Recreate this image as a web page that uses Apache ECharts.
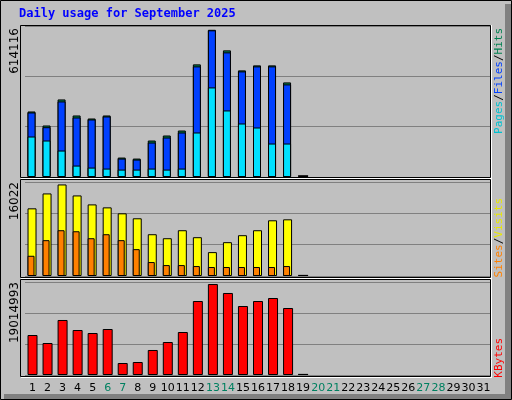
<!DOCTYPE html>
<html><head><meta charset="utf-8">
<script src="https://cdn.jsdelivr.net/npm/echarts@6/dist/echarts.min.js"></script>
<style>html,body{margin:0;padding:0;background:#c0c0c0}#c{width:512px;height:400px}</style>
</head><body><div id="c"></div>
<script>
const days = Array.from({length:31},(_,i)=>String(i+1));
const weekendDays = ['6','7','13','14','20','21','27','28'];
const hits  = [273400,214900,323600,256700,244100,256700,81100,76900,152200,173100,194000,469900,614116,528400,444800,465700,465700,394600];
const files = [269200,207800,315200,248300,240000,252500,76900,72700,143800,164700,185600,461500,612000,520000,440600,461500,461500,386300];
const pages = [168900,152200,110400,47700,39300,35100,30900,30900,35100,30900,35100,185600,373700,277600,223200,206500,139600,139600];
const visits= [11840,14450,16022,14100,12530,12010,10970,10100,7310,6610,8010,6790,4180,5920,7140,8010,9750,9920];
const sites = [3540,6270,8010,7830,6610,7310,6270,4700,2440,1910,1910,1740,1570,1570,1570,1570,1570,1740];
const kbytes= [8361000,6689000,11497000,9406000,8779000,9615000,2508000,2717000,5226000,6898000,8988000,15468000,19014993,17141000,14423000,15468000,16095000,14005000];
const maxLabels = ['614116','16022','19014993'];
const markerDay = 19;

const panels=[{top:26,h:151,max:630000},{top:182,h:94,max:16450},{top:282,h:93,max:19440000}];
const grids=panels.map(p=>({left:25,width:466,top:p.top,height:p.h}));
const xAxes=panels.map((p,i)=>({type:'category',gridIndex:i,data:days,axisLine:{show:false},axisTick:{show:false},
  axisLabel:{show:i===2,interval:0,margin:8,fontFamily:'DejaVu Sans',fontSize:11,color:v=>weekendDays.includes(v)?'#008060':'#000'}}));
const yAxes=panels.map((p,i)=>({type:'value',gridIndex:i,min:0,max:p.max,interval:p.max/3,axisLabel:{show:false},axisLine:{show:false},axisTick:{show:false},
  splitLine:{show:true,lineStyle:{color:'#808080',width:1}}}));
const st=c=>({color:c,borderColor:'#000',borderWidth:1});
const marker=i=>days.map((d,k)=>k+1===markerDay?panels[i].max*0.012:null);
const series=[
 {type:'bar',xAxisIndex:0,yAxisIndex:0,data:hits,barWidth:8,barGap:'-80%',itemStyle:st('#008050'),animation:false},
 {type:'bar',xAxisIndex:0,yAxisIndex:0,data:files,barWidth:8,barGap:'-80%',itemStyle:st('#0040ff'),animation:false},
 {type:'bar',xAxisIndex:0,yAxisIndex:0,data:pages,barWidth:8,barGap:'-62%',itemStyle:st('#00e0ff'),animation:false},
 {type:'bar',xAxisIndex:1,yAxisIndex:1,data:visits,barWidth:9,barGap:'-55%',itemStyle:st('#ffff00'),animation:false},
 {type:'bar',xAxisIndex:1,yAxisIndex:1,data:sites,barWidth:7,barGap:'-55%',itemStyle:st('#ff8000'),animation:false},
 {type:'bar',xAxisIndex:2,yAxisIndex:2,data:kbytes,barWidth:10,itemStyle:st('#ff0000'),animation:false}
];
[0,1,2].forEach(i=>series.push({type:'bar',xAxisIndex:i,yAxisIndex:i,data:marker(i),barWidth:10,barGap:'-100%',itemStyle:{color:'#000'},animation:false,z:1}));

const g=[];
g.push({type:'rect',shape:{x:0.5,y:0.5,width:511,height:399},style:{fill:null,stroke:'#000',lineWidth:1},z:0});
g.push({type:'rect',shape:{x:505,y:4,width:6,height:395},style:{fill:'#808080'},z:0});
g.push({type:'rect',shape:{x:4,y:394,width:507,height:5},style:{fill:'#808080'},z:0});
g.push({type:'text',left:19,top:8,style:{text:'Daily usage for September 2025',fill:'#0000ff',font:'bold 12px "DejaVu Sans Mono"'}});
const frames=[[25,177],[179,277],[279,376]];
frames.forEach(([a,b])=>{
  g.push({type:'rect',shape:{x:20.5,y:a+0.5,width:470,height:b-a},style:{fill:null,stroke:'#000',lineWidth:1},z:5});
  g.push({type:'line',shape:{x1:21,y1:b+1.5,x2:491,y2:b+1.5},style:{stroke:'#fff',lineWidth:1},z:5});
});
g.push({type:'line',shape:{x1:491.5,y1:25,x2:491.5,y2:378},style:{stroke:'#fff',lineWidth:1},z:5});
const lblY=[28,182,282];
maxLabels.forEach((t,i)=>g.push({type:'text',x:15,y:lblY[i],rotation:Math.PI/2,style:{text:t,fill:'#000',font:'12px "DejaVu Sans"',align:'right',verticalAlign:'middle'},z:6}));
const legFont='11px "DejaVu Sans Mono"';
const rich=(parts)=>({type:'text',x:499,y:0,rotation:Math.PI/2,style:{text:parts.map(p=>'{'+p[1]+'|'+p[0]+'}').join(''),align:'right',verticalAlign:'middle',font:legFont,
  rich:Object.fromEntries(parts.map(p=>[p[1],{fill:p[2],font:legFont}]))},z:6});
const l1=rich([['Pages','a','#00c0d0'],['/','s','#000'],['Files','b','#0040ff'],['/','t','#000'],['Hits','c','#008050']]); l1.y=28; g.push(l1);
const l2=rich([['Sites','a','#ff8000'],['/','s','#000'],['Visits','b','#e8e800']]); l2.y=198; g.push(l2);
const l3=rich([['KBytes','a','#ff0000']]); l3.y=338; g.push(l3);

const chart=echarts.init(document.getElementById('c'));
chart.setOption({backgroundColor:'#c0c0c0',animation:false,grid:grids,xAxis:xAxes,yAxis:yAxes,series,graphic:g});
</script></body></html>
